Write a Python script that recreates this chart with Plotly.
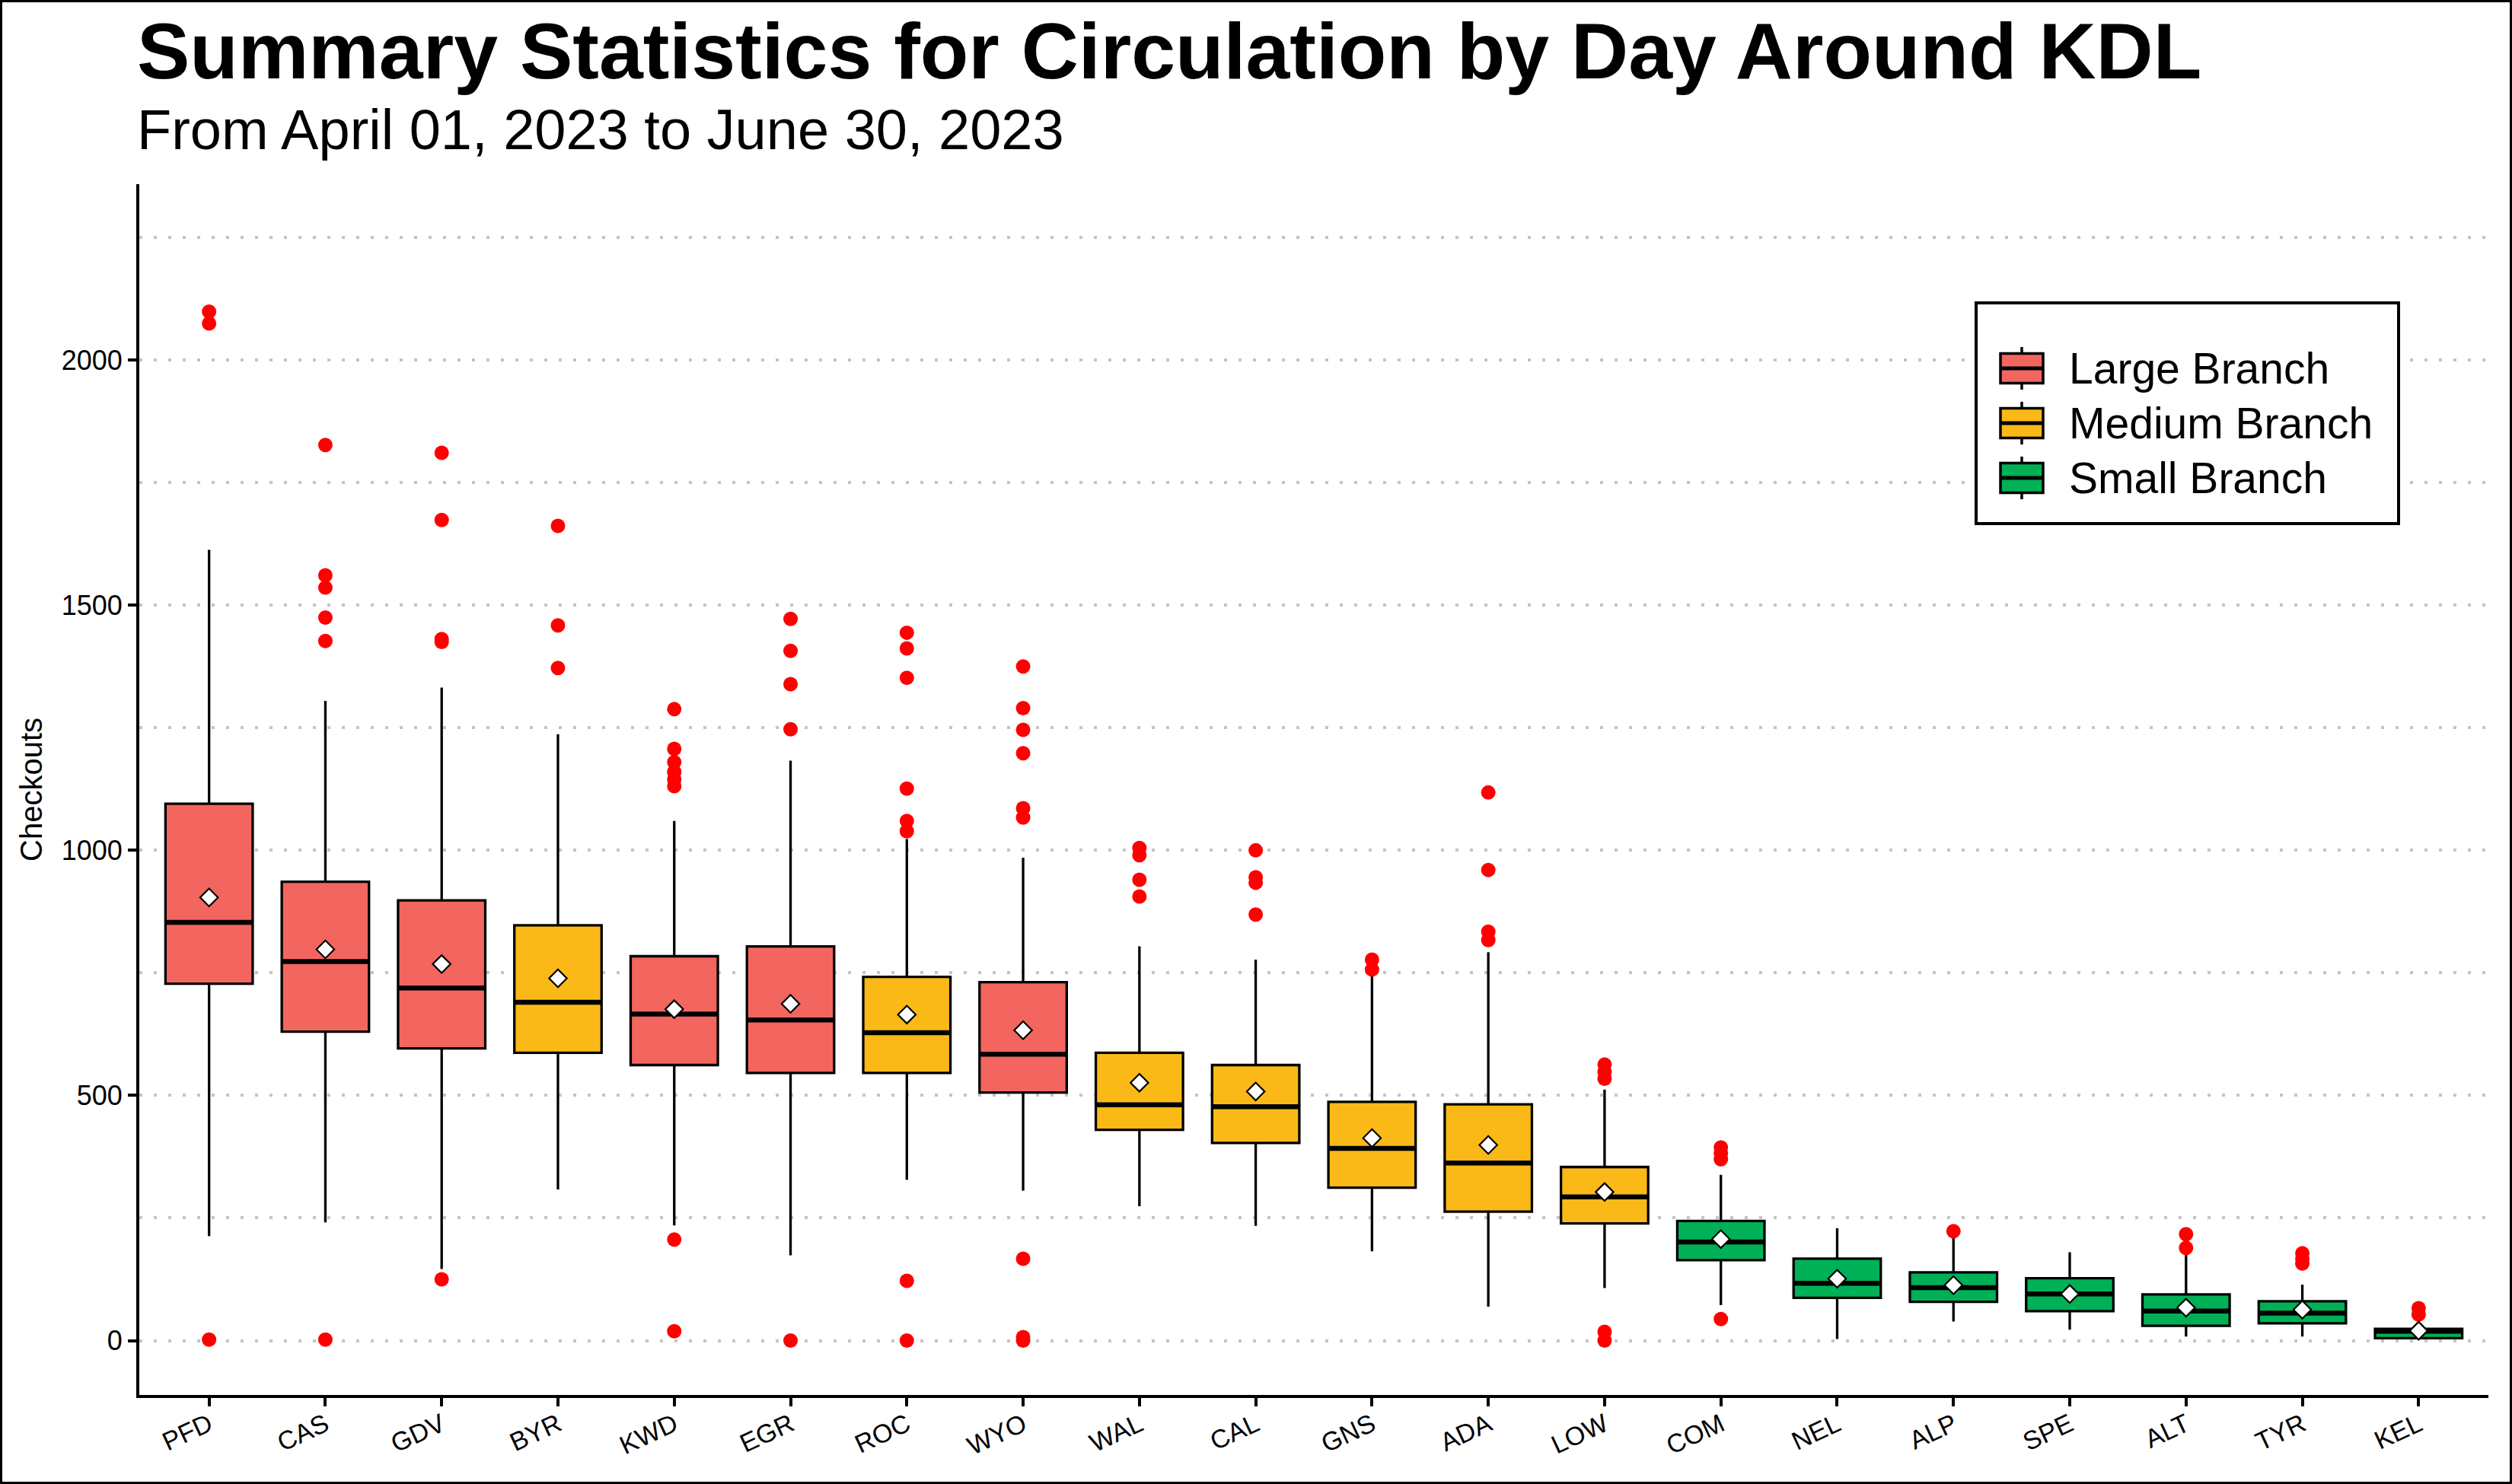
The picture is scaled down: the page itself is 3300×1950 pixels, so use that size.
import plotly.graph_objects as go

branches = ["PFD", "CAS", "GDV", "BYR", "KWD", "EGR", "ROC", "WYO", "WAL", "CAL",
            "GNS", "ADA", "LOW", "COM", "NEL", "ALP", "SPE", "ALT", "TYR", "KEL"]
sizes = ["Large", "Large", "Large", "Medium", "Large", "Large", "Medium", "Large",
         "Medium", "Medium", "Medium", "Medium", "Medium", "Small", "Small", "Small",
         "Small", "Small", "Small", "Small"]

q1 = [728, 630, 596, 587, 562, 546, 546, 506, 430, 403, 312, 263, 239, 164, 87, 79, 60, 30, 35, 5]
median = [853, 773, 719, 690, 666, 654, 628, 584, 481, 477, 392, 362, 293, 201, 117, 108, 95, 60, 56, 19]
q3 = [1095, 936, 898, 847, 784, 804, 742, 731, 587, 562, 487, 482, 354, 244, 167, 139, 127, 94, 80, 24]
whisker_lo = [213, 241, 146, 308, 235, 174, 328, 306, 274, 234, 182, 69, 107, 72, 3, 39, 22, 8, 8, 2]
whisker_hi = [1613, 1305, 1332, 1237, 1060, 1183, 1023, 985, 804, 777, 745, 792, 512, 338, 229, 217, 180, 176, 114, 45]
mean = [904, 798, 768, 739, 676, 687, 665, 633, 526, 508, 413, 399, 303, 207, 126, 113, 95, 67, 63, 20]

outliers = [
    [2099, 2075, 2],
    [1827, 1561, 1536, 1475, 1427, 2],
    [1811, 1674, 1431, 1425, 125],
    [1662, 1459, 1372],
    [1288, 1207, 1180, 1160, 1145, 1131, 206, 19],
    [1472, 1407, 1339, 1247, 0],
    [1444, 1412, 1352, 1126, 1060, 1039, 122, 0],
    [1375, 1290, 1246, 1198, 1086, 1067, 167, 7, 0],
    [1005, 990, 940, 906],
    [1000, 945, 934, 869],
    [777, 757],
    [1118, 960, 834, 817],
    [563, 548, 534, 18, 0],
    [394, 382, 370, 44],
    [],
    [223],
    [],
    [217, 189],
    [178, 167, 157],
    [66, 53],
]

groups = ["Large", "Medium", "Small"]
group_labels = ["Large Branch", "Medium Branch", "Small Branch"]
colors = {"Large": "#F2665F", "Medium": "#FBB917", "Small": "#00B056"}

BOX_W = 0.75
W, H = 3300, 1950
ML, MR, MT, MB = 183, 31, 242, 117
PW, PH = W - ML - MR, H - MT - MB
FONT = "Liberation Sans, Arial, sans-serif"


def px_x(p):
    return (p - ML) / PW


def px_y(p):
    return 1 - (p - MT) / PH


pos = list(range(len(branches)))
fig = go.Figure()

for g in groups:
    idx = [i for i, s in enumerate(sizes) if s == g]
    fig.add_trace(go.Box(
        x=[pos[i] for i in idx],
        q1=[q1[i] for i in idx],
        median=[median[i] for i in idx],
        q3=[q3[i] for i in idx],
        lowerfence=[whisker_lo[i] for i in idx],
        upperfence=[whisker_hi[i] for i in idx],
        width=BOX_W,
        whiskerwidth=0,
        boxpoints=False,
        fillcolor=colors[g],
        line=dict(color="black", width=3.3),
        name=g + " Branch",
        showlegend=False,
        hoverinfo="skip",
    ))

# thick median bars
mx, my = [], []
for i in pos:
    mx += [i - BOX_W / 2, i + BOX_W / 2, None]
    my += [median[i], median[i], None]
fig.add_trace(go.Scatter(x=mx, y=my, mode="lines", line=dict(color="black", width=6.5),
                         showlegend=False, hoverinfo="skip"))

ox, oy = [], []
for i, vals in enumerate(outliers):
    for v in vals:
        ox.append(i)
        oy.append(v)
fig.add_trace(go.Scatter(x=ox, y=oy, mode="markers",
                         marker=dict(color="#FF0000", size=19),
                         showlegend=False, hoverinfo="skip"))

fig.add_trace(go.Scatter(x=pos, y=mean, mode="markers",
                         marker=dict(symbol="diamond", color="white", size=18,
                                     line=dict(color="black", width=2.2)),
                         showlegend=False, hoverinfo="skip"))

shapes = []
# outer frame
shapes.append(dict(type="rect", xref="paper", yref="paper",
                   x0=px_x(1.5), x1=px_x(W - 1.5), y0=px_y(H - 1.5), y1=px_y(1.5),
                   line=dict(color="black", width=3), layer="above"))

# legend key
shapes.append(dict(type="rect", xref="paper", yref="paper",
                   x0=px_x(2596), x1=px_x(3151), y0=px_y(688), y1=px_y(398),
                   line=dict(color="black", width=4), fillcolor="white", layer="above"))
annotations = []
for k, (g, lab) in enumerate(zip(groups, group_labels)):
    cy = 484 + k * 72
    shapes.append(dict(type="line", xref="paper", yref="paper",
                       x0=px_x(2656), x1=px_x(2656), y0=px_y(cy + 28), y1=px_y(cy - 28),
                       line=dict(color="black", width=3.5), layer="above"))
    shapes.append(dict(type="rect", xref="paper", yref="paper",
                       x0=px_x(2628), x1=px_x(2684), y0=px_y(cy + 19.5), y1=px_y(cy - 19.5),
                       line=dict(color="black", width=3.5), fillcolor=colors[g], layer="above"))
    shapes.append(dict(type="line", xref="paper", yref="paper",
                       x0=px_x(2628), x1=px_x(2684), y0=px_y(cy), y1=px_y(cy),
                       line=dict(color="black", width=5), layer="above"))
    annotations.append(dict(text=lab, xref="paper", yref="paper", x=px_x(2716), y=px_y(cy),
                            xanchor="left", yanchor="middle", showarrow=False,
                            font=dict(family=FONT, size=57, color="black")))

annotations.append(dict(text="<b>Summary Statistics for Circulation by Day Around KDL</b>",
                        xref="paper", yref="paper", x=px_x(178), y=px_y(67),
                        xanchor="left", yanchor="middle", showarrow=False,
                        font=dict(family=FONT, size=104, color="black")))
annotations.append(dict(text="From April 01, 2023 to June 30, 2023",
                        xref="paper", yref="paper", x=px_x(178), y=px_y(171),
                        xanchor="left", yanchor="middle", showarrow=False,
                        font=dict(family=FONT, size=74, color="black")))

grid = dict(gridcolor="#C4C4C4", gridwidth=4, griddash="4px,15px")

fig.update_layout(
    width=W, height=H,
    margin=dict(l=ML, r=MR, t=MT, b=MB),
    plot_bgcolor="white", paper_bgcolor="white",
    boxmode="overlay",
    showlegend=False,
    shapes=shapes,
    annotations=annotations,
    font=dict(family=FONT, color="black"),
    xaxis=dict(
        range=[-0.6, 19.6],
        tickvals=pos, ticktext=branches, tickangle=-25,
        tickfont=dict(size=34, color="black"),
        ticklabelstandoff=-9,
        showgrid=False, zeroline=False,
        showline=True, linecolor="black", linewidth=4,
        ticks="outside", ticklen=11, tickwidth=4, tickcolor="black",
    ),
    yaxis=dict(
        range=[-111, 2359],
        tick0=0, dtick=500,
        tickfont=dict(size=36, color="black"),
        showgrid=True, **grid,
        minor=dict(tick0=0, dtick=250, showgrid=True, ticks="", **grid),
        zeroline=False,
        showline=True, linecolor="black", linewidth=4,
        ticks="outside", ticklen=11, tickwidth=4, tickcolor="black",
        exponentformat="none",
        title=dict(text="Checkouts", font=dict(size=40, color="black"), standoff=14),
    ),
)

# page has a default 8px body margin; drop it so the figure sits at the window corner
fig.write_html("out.html", config={"displayModeBar": False},
               post_script="document.body.style.margin='0';")
